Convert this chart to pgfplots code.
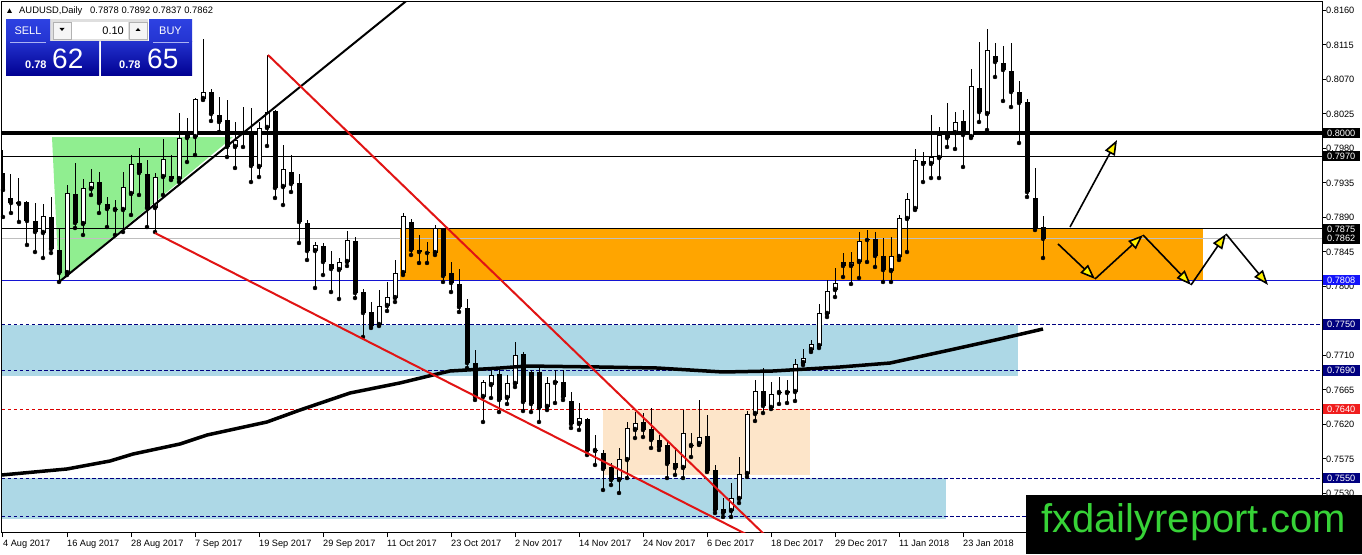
\documentclass[border=0pt]{standalone}
\usepackage{fontspec}
\setmainfont{Liberation Sans}
\usepackage{pgfplots}
\usepackage{pgfplotstable}
\pgfplotsset{compat=1.18}
\usetikzlibrary{arrows.meta}
\definecolor{navyL}{RGB}{0,0,128}
\definecolor{redL}{RGB}{225,20,20}
\definecolor{redD}{RGB}{220,0,0}
\definecolor{blueL}{RGB}{20,20,210}
\definecolor{boxblue}{RGB}{20,20,250}
\definecolor{boxred}{RGB}{240,30,30}
\definecolor{orangeB}{RGB}{255,165,0}
\definecolor{bisqueB}{RGB}{253,229,201}
\definecolor{lblue}{RGB}{173,216,230}
\definecolor{lgreen}{RGB}{144,238,144}
\definecolor{wmgreen}{RGB}{55,210,55}
\definecolor{paneltop}{RGB}{45,65,225}
\definecolor{panelbot}{RGB}{0,0,145}
\newcommand\tf{\fontsize{9.2}{11}\selectfont}

\pgfplotstableread{
k o h l c
2 0.79074 0.79413 0.78840 0.79100
5 0.78696 0.79074 0.78370 0.78918
8 0.78174 0.79322 0.78148 0.79218
10 0.78813 0.79400 0.78670 0.79283
11 0.79270 0.79531 0.79192 0.79361
14 0.78996 0.79126 0.78670 0.79009
15 0.78996 0.79492 0.78709 0.79296
16 0.79205 0.79713 0.78931 0.79596
19 0.79022 0.79479 0.78709 0.79426
20 0.79426 0.79922 0.79192 0.79661
22 0.79400 0.80261 0.79361 0.79935
23 0.79935 0.80196 0.79622 0.79974
24 0.79948 0.80457 0.79713 0.80444
25 0.80444 0.81226 0.80431 0.80535
29 0.79818 0.80144 0.79544 0.79909
32 0.79557 0.80144 0.79426 0.80066
33 0.80066 0.81018 0.79831 0.80274
35 0.79296 0.79844 0.79061 0.79531
39 0.78461 0.78579 0.77979 0.78540
42 0.78213 0.78370 0.77835 0.78318
43 0.78318 0.78722 0.78266 0.78605
47 0.77496 0.77953 0.77483 0.77744
48 0.77744 0.78057 0.77679 0.77861
49 0.77848 0.78344 0.77796 0.78174
50 0.78174 0.78957 0.78148 0.78918
54 0.78435 0.78800 0.78409 0.78761
60 0.76557 0.76779 0.76231 0.76753
61 0.76713 0.76909 0.76544 0.76844
63 0.76544 0.76844 0.76466 0.76740
64 0.76727 0.77274 0.76687 0.77105
68 0.76427 0.76818 0.76387 0.76740
69 0.76740 0.76909 0.76479 0.76766
72 0.76205 0.76479 0.76127 0.76283
74 0.75853 0.76061 0.75670 0.75866
77 0.75474 0.75892 0.75305 0.75748
78 0.75735 0.76231 0.75500 0.76153
79 0.76127 0.76361 0.76022 0.76218
85 0.75631 0.76387 0.75500 0.76087
86 0.75918 0.76087 0.75774 0.75931
87 0.75944 0.76518 0.75931 0.76035
91 0.75070 0.75435 0.74992 0.75240
92 0.75227 0.75774 0.75174 0.75553
93 0.75553 0.76374 0.75514 0.76335
94 0.76335 0.76779 0.76244 0.76635
96 0.76414 0.76753 0.76400 0.76596
97 0.76609 0.76818 0.76466 0.76622
98 0.76609 0.76779 0.76479 0.76635
99 0.76622 0.77053 0.76505 0.76987
100 0.77000 0.77183 0.76974 0.77066
101 0.77170 0.77300 0.77144 0.77248
102 0.77222 0.77770 0.77196 0.77653
103 0.77640 0.78083 0.77600 0.77939
104 0.77953 0.78240 0.77861 0.78044
106 0.78266 0.78448 0.78031 0.78318
107 0.78318 0.78709 0.78109 0.78592
111 0.78200 0.78644 0.78057 0.78396
112 0.78383 0.78931 0.78344 0.78892
113 0.78879 0.79218 0.78448 0.79139
114 0.79009 0.79792 0.78996 0.79648
116 0.79596 0.80235 0.79413 0.79687
117 0.79674 0.80079 0.79413 0.79974
119 0.80000 0.80274 0.79792 0.80144
121 0.79948 0.80835 0.79935 0.80613
123 0.80248 0.81357 0.80039 0.81083
}\bull

\pgfplotstableread{
k o h l c
0 0.79479 0.79779 0.78905 0.79257
1 0.79153 0.79466 0.78957 0.79087
3 0.79100 0.79113 0.78540 0.78853
4 0.78853 0.79087 0.78448 0.78709
6 0.78905 0.79166 0.78435 0.78487
7 0.78474 0.78748 0.78057 0.78174
9 0.79205 0.79609 0.78761 0.78826
12 0.79361 0.79492 0.78957 0.79087
13 0.79074 0.79166 0.78774 0.79009
17 0.79609 0.79805 0.79192 0.79479
18 0.79466 0.79648 0.78774 0.79022
21 0.79439 0.79713 0.79387 0.79400
26 0.80535 0.80574 0.80157 0.80248
27 0.80235 0.80470 0.80013 0.80144
28 0.80170 0.80431 0.79687 0.79818
30 0.80013 0.80339 0.79818 0.80000
31 0.80013 0.80326 0.79361 0.79570
34 0.80287 0.80300 0.79153 0.79283
36 0.79492 0.79713 0.79231 0.79335
37 0.79348 0.79466 0.78566 0.78840
38 0.78826 0.78866 0.78344 0.78461
40 0.78526 0.78566 0.78148 0.78318
41 0.78292 0.78461 0.77926 0.78226
44 0.78592 0.78644 0.77848 0.77913
45 0.77926 0.77966 0.77340 0.77653
46 0.77666 0.77796 0.77457 0.77483
51 0.78840 0.78879 0.78409 0.78474
52 0.78474 0.78670 0.78305 0.78448
53 0.78448 0.78579 0.78305 0.78435
55 0.78748 0.78761 0.78057 0.78135
56 0.78174 0.78318 0.77926 0.78044
57 0.78031 0.78226 0.77666 0.77731
58 0.77718 0.77835 0.76935 0.77000
59 0.77000 0.77170 0.76518 0.76557
62 0.76857 0.76935 0.76361 0.76518
65 0.77118 0.77144 0.76374 0.76492
66 0.76883 0.76909 0.76361 0.76466
67 0.76883 0.76935 0.76231 0.76414
70 0.76753 0.76909 0.76518 0.76557
71 0.76505 0.76622 0.76153 0.76205
73 0.76270 0.76283 0.75800 0.75853
75 0.75827 0.75866 0.75344 0.75618
76 0.75644 0.75696 0.75409 0.75474
80 0.76231 0.76348 0.76035 0.76127
81 0.76140 0.76414 0.75892 0.75996
82 0.75996 0.76061 0.75866 0.75905
83 0.75931 0.75970 0.75500 0.75683
84 0.75696 0.75866 0.75540 0.75631
88 0.76048 0.76322 0.75579 0.75592
89 0.75605 0.75670 0.75044 0.75083
90 0.75096 0.75240 0.74992 0.75044
95 0.76635 0.76935 0.76348 0.76440
105 0.78318 0.78435 0.78122 0.78266
108 0.78618 0.78735 0.78318 0.78605
109 0.78618 0.78709 0.78253 0.78396
110 0.78396 0.78631 0.78057 0.78213
115 0.79635 0.79752 0.79361 0.79596
118 0.79974 0.80392 0.79818 0.79935
120 0.80157 0.80300 0.79557 0.79974
122 0.80587 0.81187 0.80144 0.80274
124 0.81005 0.81174 0.80731 0.80926
125 0.80913 0.81135 0.80418 0.80822
126 0.80809 0.81174 0.80339 0.80535
127 0.80535 0.80679 0.79870 0.80392
128 0.80405 0.80444 0.79166 0.79231
129 0.79153 0.79544 0.78735 0.78761
130 0.7878 0.7892 0.7837 0.7862
}\bear

\begin{document}
\begin{tikzpicture}
\fill[white] (0,0) rectangle (1362pt,554pt);
\begin{axis}[
  at={(2pt,21pt)}, anchor=south west,
  scale only axis, width=1320pt, height=531pt,
  xmin=-0.125, xmax=164.875, ymin=0.74783, ymax=0.81709,
  clip mode=individual,
  axis line style={black, line width=1pt},
  tick align=outside, major tick length=4pt,
  tick style={black, line width=1pt},
  xtick pos=bottom, ytick pos=right, yticklabel pos=right,
  xtick={0,8,...,120},
  xticklabels={4 Aug 2017,16 Aug 2017,28 Aug 2017,7 Sep 2017,19 Sep 2017,29 Sep 2017,11 Oct 2017,23 Oct 2017,2 Nov 2017,14 Nov 2017,24 Nov 2017,6 Dec 2017,18 Dec 2017,29 Dec 2017,11 Jan 2018,23 Jan 2018},
  xticklabel style={anchor=north west, inner sep=0pt, yshift=-2.5pt, font=\tf},
  ytick={0.7530,0.7575,0.7620,0.7665,0.7710,0.7755,0.7800,0.7845,0.7890,0.7935,0.7980,0.8025,0.8070,0.8115,0.8160},
  yticklabels={0.7530,0.7575,0.7620,0.7665,0.7710,{},0.7800,0.7845,0.7890,0.7935,0.7980,0.8025,0.8070,0.8115,0.8160},
  yticklabel style={anchor=west, inner sep=0pt, font=\tf},
  scaled y ticks=false,
]
% zones
\addplot[fill=lblue, draw=none] coordinates {(-0.125,0.76831) (126.875,0.76831) (126.875,0.7750) (-0.125,0.7750)} -- cycle;
\addplot[fill=lblue, draw=none] coordinates {(-0.125,0.74966) (117.875,0.74966) (117.875,0.7550) (-0.125,0.7550)} -- cycle;
\addplot[fill=bisqueB, draw=none] coordinates {(75,0.7554) (100.875,0.7554) (100.875,0.7640) (75,0.7640)} -- cycle;
\addplot[fill=orangeB, draw=none] coordinates {(49.625,0.7808) (150,0.7808) (150,0.7875) (49.625,0.7875)} -- cycle;
\addplot[fill=lgreen, draw=none] coordinates {(6.125,0.79948) (28.75,0.79948) (7,0.78057)} -- cycle;
% horizontal levels
\addplot[black, line width=4pt] coordinates {(-0.125,0.8000) (164.875,0.8000)};
\addplot[black, line width=1pt] coordinates {(-0.125,0.7970) (164.875,0.7970)};
\addplot[black, line width=1pt] coordinates {(-0.125,0.7875) (164.875,0.7875)};
\addplot[gray!50, line width=1pt] coordinates {(-0.125,0.7862) (164.875,0.7862)};
\addplot[blueL, line width=1pt] coordinates {(-0.125,0.7808) (164.875,0.7808)};
\addplot[navyL, line width=1pt, dash pattern=on 3.5pt off 2.5pt] coordinates {(-0.125,0.7750) (164.875,0.7750)};
\addplot[navyL, line width=1pt, dash pattern=on 3.5pt off 2.5pt] coordinates {(-0.125,0.7690) (164.875,0.7690)};
\addplot[redD, line width=1pt, dash pattern=on 3.5pt off 2.5pt] coordinates {(-0.125,0.7640) (164.875,0.7640)};
\addplot[navyL, line width=1pt, dash pattern=on 3.5pt off 2.5pt] coordinates {(-0.125,0.7550) (164.875,0.7550)};
\addplot[navyL, line width=1pt, dash pattern=on 3.5pt off 2.5pt] coordinates {(-0.125,0.7500) (164.875,0.7500)};
% wicks
\addplot[only marks, mark=none, error bars/.cd, y dir=plus, y explicit, error mark=none, error bar style={draw=black, line width=1pt}] table[x=k, y=l, y error expr={\thisrow{h}-\thisrow{l}}] {\bull};
\addplot[only marks, mark=none, error bars/.cd, y dir=plus, y explicit, error mark=none, error bar style={draw=black, line width=1pt}] table[x=k, y=l, y error expr={\thisrow{h}-\thisrow{l}}] {\bear};
% bodies
\addplot[only marks, mark=none, error bars/.cd, y dir=plus, y explicit, error mark=none, error bar style={draw=black, line width=5pt}] table[x=k, y=c, y error expr={max(\thisrow{o}-\thisrow{c},0.00013)}] {\bear};
\addplot[only marks, mark=none, error bars/.cd, y dir=plus, y explicit, error mark=none, error bar style={draw=black, line width=5pt}] table[x=k, y=o, y error expr={max(\thisrow{c}-\thisrow{o},0.00013)}] {\bull};
\addplot[only marks, mark=none, error bars/.cd, y dir=plus, y explicit, error mark=none, error bar style={draw=white, line width=3pt}] table[x=k, y expr={\thisrow{o}+0.00013}, y error expr={max(\thisrow{c}-\thisrow{o}-0.00026,0)}] {\bull};
% moving average
\addplot[black, line width=3.5pt, line join=round] coordinates {
(-0.125,0.75540) (8,0.75618) (13.375,0.75722) (16.25,0.75813) (22.125,0.75944) (25.5,0.76061)
(33,0.76231) (37.125,0.76387) (43.375,0.76609) (49.625,0.76740) (53.75,0.76844) (55.875,0.76896)
(62.125,0.76935) (65.5,0.76961) (74.625,0.76948) (81.75,0.76935) (90,0.76883) (96.25,0.76896)
(104.625,0.76948) (110.875,0.77000) (118.375,0.77170) (124.625,0.77314) (130,0.77444)};
% trend lines
\addplot[black, line width=2pt] coordinates {(7,0.78057) (51,0.81772)};
\addplot[redL, line width=2pt] coordinates {(33.125,0.81018) (97,0.74579)};
\addplot[redL, line width=2pt] coordinates {(19,0.78696) (95,0.74656)};
% projected path arrows
\draw[black, line width=1.6pt, -{Triangle[length=15pt,width=11pt,fill=yellow]}] (axis cs:133.375,0.78774) -- (axis cs:139.25,0.79909);
\draw[black, line width=1.6pt, -{Triangle[length=15pt,width=11pt,fill=yellow]}] (axis cs:131.875,0.78553) -- (axis cs:136.5,0.78096);
\draw[black, line width=1.6pt, -{Triangle[length=15pt,width=11pt,fill=yellow]}] (axis cs:136.5,0.78096) -- (axis cs:142.5,0.78670);
\draw[black, line width=1.6pt, -{Triangle[length=15pt,width=11pt,fill=yellow]}] (axis cs:142.5,0.78670) -- (axis cs:148.5,0.78018);
\draw[black, line width=1.6pt, -{Triangle[length=15pt,width=11pt,fill=yellow]}] (axis cs:148.5,0.78018) -- (axis cs:152.875,0.78683);
\draw[black, line width=1.6pt, -{Triangle[length=15pt,width=11pt,fill=yellow]}] (axis cs:152.875,0.78683) -- (axis cs:158.125,0.78018);
% anchors for price boxes
\coordinate (R8000) at (axis cs:164.875,0.8000);
\coordinate (R7970) at (axis cs:164.875,0.7970);
\coordinate (R7875) at (axis cs:164.875,0.7875);
\coordinate (R7862) at (axis cs:164.875,0.7862);
\coordinate (R7808) at (axis cs:164.875,0.7808);
\coordinate (R7750) at (axis cs:164.875,0.7750);
\coordinate (R7690) at (axis cs:164.875,0.7690);
\coordinate (R7640) at (axis cs:164.875,0.7640);
\coordinate (R7550) at (axis cs:164.875,0.7550);
\end{axis}
% price boxes
\foreach \nm/\txt/\col in {R8000/0.8000/black, R7970/0.7970/black, R7875/0.7875/black, R7862/0.7862/black, R7808/0.7808/boxblue, R7750/0.7750/navyL, R7690/0.7690/navyL, R7640/0.7640/boxred, R7550/0.7550/navyL}
  \node[fill=\col, text=white, inner sep=0pt, minimum width=37pt, minimum height=10.5pt, anchor=west, font=\tf] at ([xshift=0.5pt]\nm) {\txt};
\begin{scope}[x=1pt,y=1pt]
% watermark
\fill[black] (1026,0) rectangle (1362,59);
\node[anchor=base west, inner sep=0pt, text=wmgreen, font=\fontsize{40}{40}\selectfont] at (1041,21) {fxdailyreport.com};
% header
\fill[black] (7,541) -- (12,541) -- (9.5,545.5) -- cycle;
\node[anchor=base west, inner sep=0pt, font=\fontsize{9.4}{11}\selectfont] at (19,540) {AUDUSD,Daily};
\node[anchor=base west, inner sep=0pt, font=\fontsize{9.4}{11}\selectfont] at (90,540) {0.7878 0.7892 0.7837 0.7862};
% trade panel
\fill[gray!25] (50,535) rectangle (148,512);
\fill[gray!8] (53,532) rectangle (71,515);
\draw[gray!60, line width=0.6pt] (53,532) rectangle (71,515);
\fill[white] (72,532) rectangle (128,515);
\fill[gray!8] (129,532) rectangle (147,515);
\draw[gray!60, line width=0.6pt] (129,532) rectangle (147,515);
\fill[black] (59.5,526) -- (64.5,526) -- (62,523) -- cycle;
\fill[black] (135.5,523) -- (140.5,523) -- (138,526) -- cycle;
\node[anchor=east, inner sep=0pt, font=\fontsize{11}{12}\selectfont] at (124,523.5) {0.10};
\shade[top color=paneltop, bottom color=paneltop!80!panelbot] (6,534) rectangle (50,512);
\shade[top color=paneltop, bottom color=paneltop!80!panelbot] (149,534) rectangle (192,512);
\shade[top color=paneltop!75!panelbot, bottom color=panelbot] (6,512) rectangle (99,478);
\shade[top color=paneltop!75!panelbot, bottom color=panelbot] (101,512) rectangle (192,478);
\draw[paneltop!40!white, line width=0.8pt] (10,512) -- (46,512);
\draw[paneltop!40!white, line width=0.8pt] (153,512) -- (189,512);
\node[text=white, inner sep=0pt, font=\fontsize{11}{12}\selectfont] at (28,523) {SELL};
\node[text=white, inner sep=0pt, font=\fontsize{11}{12}\selectfont] at (170.5,523) {BUY};
\node[anchor=base west, inner sep=0pt, text=white, font=\bfseries\fontsize{11}{12}\selectfont] at (25,485) {0.78};
\node[anchor=base west, inner sep=0pt, text=white, font=\fontsize{28}{28}\selectfont] at (52,485) {62};
\node[anchor=base west, inner sep=0pt, text=white, font=\bfseries\fontsize{11}{12}\selectfont] at (119,485) {0.78};
\node[anchor=base west, inner sep=0pt, text=white, font=\fontsize{28}{28}\selectfont] at (147,485) {65};
\end{scope}
\pgfresetboundingbox
\useasboundingbox (0,0) rectangle (1362pt,554pt);
\end{tikzpicture}
\end{document}
